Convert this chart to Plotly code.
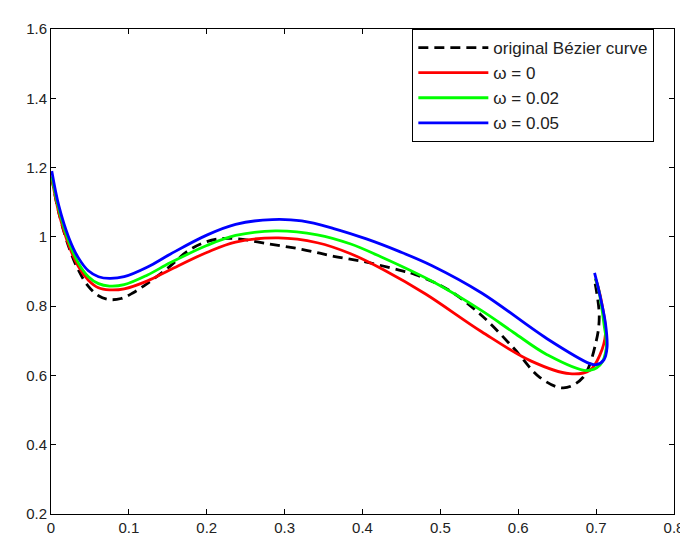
import plotly.graph_objects as go

# original Bézier curve
x_orig = [0.001, 0.01, 0.023, 0.035, 0.048, 0.061, 0.075, 0.09, 0.105, 0.124, 0.15, 0.175, 0.195,
          0.215, 0.237, 0.279, 0.322, 0.363, 0.405, 0.447, 0.468, 0.511, 0.553, 0.594, 0.628, 0.658,
          0.683, 0.700, 0.704, 0.698]
y_orig = [1.17, 1.07, 0.97, 0.905, 0.857, 0.83, 0.819, 0.822, 0.838, 0.866, 0.91, 0.958, 0.982,
          0.994, 0.995, 0.98, 0.964, 0.944, 0.927, 0.904, 0.891, 0.846, 0.773, 0.679, 0.594, 0.564,
          0.594, 0.698, 0.773, 0.874]

# omega = 0
x_w0 = [0.001, 0.01, 0.023, 0.035, 0.048, 0.061, 0.075, 0.094, 0.124, 0.153, 0.2, 0.237, 0.292,
        0.342, 0.384, 0.427, 0.481, 0.553, 0.616, 0.666, 0.692, 0.705, 0.712, 0.708, 0.702, 0.699]
y_w0 = [1.17, 1.07, 0.975, 0.915, 0.875, 0.853, 0.847, 0.85, 0.873, 0.905, 0.955, 0.985, 0.997,
        0.983, 0.952, 0.905, 0.835, 0.726, 0.642, 0.605, 0.615, 0.66, 0.72, 0.8, 0.86, 0.88]

# omega = 0.02
x_w2 = [0.001, 0.01, 0.023, 0.035, 0.048, 0.061, 0.075, 0.094, 0.124, 0.153, 0.2, 0.237, 0.288,
        0.342, 0.384, 0.427, 0.49, 0.553, 0.594, 0.637, 0.688, 0.705, 0.713, 0.71, 0.703, 0.699]
y_w2 = [1.175, 1.08, 0.985, 0.925, 0.885, 0.865, 0.858, 0.862, 0.89, 0.925, 0.975, 1.004, 1.017,
        1.006, 0.98, 0.939, 0.871, 0.787, 0.724, 0.66, 0.614, 0.63, 0.678, 0.75, 0.85, 0.88]

# omega = 0.05
x_w5 = [0.001, 0.01, 0.023, 0.035, 0.048, 0.061, 0.075, 0.094, 0.124, 0.153, 0.2, 0.237, 0.284,
        0.322, 0.363, 0.405, 0.447, 0.49, 0.553, 0.637, 0.692, 0.700, 0.710, 0.714, 0.712, 0.705, 0.698]
y_w5 = [1.19, 1.09, 0.997, 0.94, 0.902, 0.885, 0.880, 0.885, 0.913, 0.95, 1.005, 1.036, 1.05,
        1.046, 1.024, 0.994, 0.958, 0.916, 0.838, 0.706, 0.634, 0.631, 0.645, 0.68, 0.75, 0.83, 0.896]

x_ticks = [0, 0.1, 0.2, 0.3, 0.4, 0.5, 0.6, 0.7, 0.8]
x_tick_labels = ["0", "0.1", "0.2", "0.3", "0.4", "0.5", "0.6", "0.7", "0.8"]
y_ticks = [0.2, 0.4, 0.6, 0.8, 1.0, 1.2, 1.4, 1.6]
y_tick_labels = ["0.2", "0.4", "0.6", "0.8", "1", "1.2", "1.4", "1.6"]

fig = go.Figure()
fig.add_trace(go.Scatter(x=x_orig, y=y_orig, mode="lines", name="original Bézier curve",
                         line=dict(color="black", width=2.8, dash="10px,6px", shape="spline")))
fig.add_trace(go.Scatter(x=x_w0, y=y_w0, mode="lines", name="ω = 0",
                         line=dict(color="#ff0000", width=2.8, shape="spline")))
fig.add_trace(go.Scatter(x=x_w2, y=y_w2, mode="lines", name="ω = 0.02",
                         line=dict(color="#00ff00", width=2.8, shape="spline")))
fig.add_trace(go.Scatter(x=x_w5, y=y_w5, mode="lines", name="ω = 0.05",
                         line=dict(color="#0000ff", width=2.8, shape="spline")))

axis_common = dict(showgrid=False, zeroline=False, showline=True, linecolor="black", linewidth=1,
                   mirror="ticks", ticks="inside", ticklen=5, tickcolor="black",
                   tickfont=dict(family="Liberation Sans, Arial", size=15, color="#222"))
fig.update_xaxes(range=[0, 0.8], tickvals=x_ticks, ticktext=x_tick_labels, **axis_common)
fig.update_yaxes(range=[0.2, 1.6], tickvals=y_ticks, ticktext=y_tick_labels, **axis_common)

fig.update_layout(
    width=688, height=540,
    margin=dict(l=43, r=12, t=20, b=21),
    plot_bgcolor="white", paper_bgcolor="white",
    font=dict(family="Liberation Sans, Arial", size=15, color="#222"),
    legend=dict(x=0.58, y=1.0, xanchor="left", yanchor="top",
                bordercolor="black", borderwidth=1, bgcolor="white",
                font=dict(size=17), tracegroupgap=0, itemwidth=70),
    showlegend=True,
)
fig.write_html("out.html")
